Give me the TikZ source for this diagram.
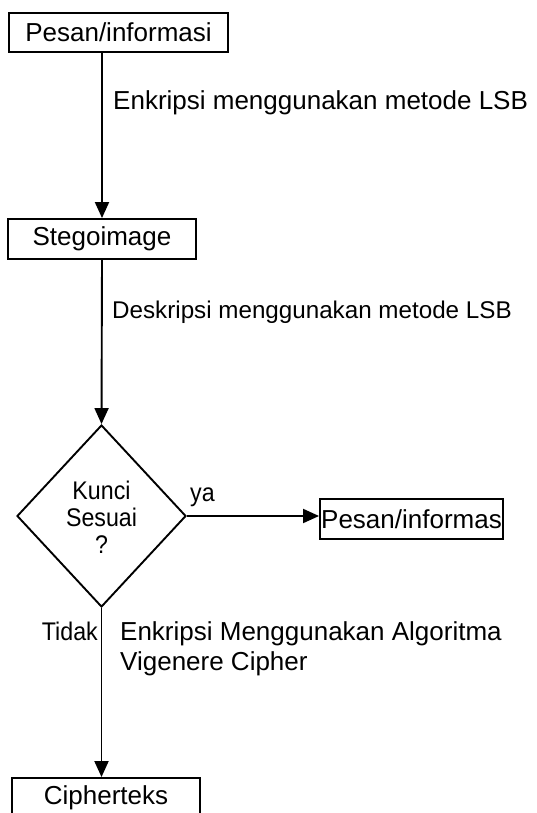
\documentclass[tikz,border=0pt]{standalone}
\usepackage{fontspec}
\setmainfont{Liberation Sans}
\newfontfamily\narrowfont{Liberation Sans}[FakeStretch=0.91]
\usetikzlibrary{arrows.meta,shapes.geometric}
\tikzset{
  box/.style={draw, line width=1.9pt, inner sep=0pt, font=\fontsize{26}{30}\selectfont},
  arr/.style={line width=1.9pt, -{Triangle[length=16pt,width=14pt]}},
  lbl/.style={inner sep=0pt, font=\fontsize{26}{30}\selectfont},
  lblsmall/.style={inner sep=0pt, font=\fontsize{24.2}{28}\selectfont},
  plain/.style={inner sep=0pt, font=\narrowfont\fontsize{25.5}{27}\selectfont},
}
\begin{document}
\begin{tikzpicture}[x=1pt,y=-1pt]
\clip (0,0) rectangle (537,813);
\fill[white] (0,0) rectangle (537,813);

% process boxes
\node[box, minimum width=219pt, minimum height=39pt] (p1) at (118.5,32.5) {Pesan/informasi};
\node[box, minimum width=188pt, minimum height=40pt] (stego) at (102,239) {Stegoimage};
\node[box, minimum width=183pt, minimum height=40pt] (out) at (411.5,519) {Pesan/informas};
\node[box, minimum width=188pt, minimum height=40pt] (cipher) at (106,798) {Cipherteks};

% decision
\node[draw, diamond, line width=1.9pt, inner sep=0pt, aspect=0.93,
      minimum width=169pt, minimum height=182pt] (d) at (101.5,516) {};
\node[plain, align=center] (dq) at (101.5,517) {Kunci\\Sesuai\\?};

% connectors
\draw[arr] (p1.south -| stego.north) -- (stego.north);
\draw[arr] (stego.south) -- (d.north);
\draw[arr] (d.east) -- (d.east -| out.west);
\draw[arr] (d.south) -- (d.south |- cipher.north);

% connector labels
\node[lbl, anchor=base west] (l1) at (113,110) {Enkripsi menggunakan metode LSB};
\node[lblsmall, anchor=base west] (l2) at (112,318) {Deskripsi menggunakan metode LSB};
\node[plain, anchor=base west] (lya) at (190,501) {ya};
\node[plain, anchor=base east] (ltidak) at (98,640) {Tidak};
\node[lbl, anchor=base west] (l3a) at (120,640) {Enkripsi Menggunakan Algoritma};
\node[lbl, anchor=base west] (l3b) at (120,670) {Vigenere Cipher};
\end{tikzpicture}
\end{document}
